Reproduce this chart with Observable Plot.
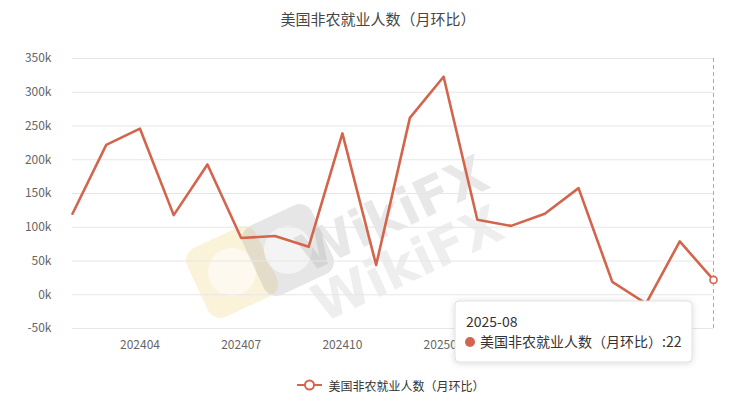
<!DOCTYPE html>
<html>
<head>
<meta charset="utf-8">
<script src="https://cdn.jsdelivr.net/npm/d3@7"></script>
<script src="https://cdn.jsdelivr.net/npm/@observablehq/plot@0.6"></script>
<style>
  html, body { margin: 0; padding: 0; background: #fff; }
  body { width: 748px; height: 402px; overflow: hidden; font-family: "Noto Sans CJK SC", "Noto Sans", sans-serif; }
  #title { height: 40px; line-height: 38px; text-align: center; font-size: 15px; color: #464646; padding-left: 8px; box-sizing: border-box; }
  #legend { height: 34px; display: flex; align-items: center; justify-content: center; padding-left: 34px; box-sizing: border-box; font-size: 12px; color: #333; }
  #legend svg { margin-right: 6px; }
</style>
</head>
<body>
<div id="title"></div>
<div id="chart"></div>
<div id="legend"></div>
<script>
const seriesName = "美国非农就业人数（月环比）";
const months = ["202402","202403","202404","202405","202406","202407","202408","202409","202410","202411",
                "202412","202501","202502","202503","202504","202505","202506","202507","202508","202509"];
const values = [120, 222, 246, 118, 193, 84, 87, 71, 239, 44, 262, 323, 111, 102, 120, 158, 19, -13, 79, 22];
const xTickLabels = ["202404","202407","202410","202501","202504","202507"];
const yTicks = [-50, 0, 50, 100, 150, 200, 250, 300, 350];
const tooltipDate = "2025-08";
const tooltipValue = 22;
const lineColor = "#d2654c";

const data = months.map((m, i) => ({month: m, value: values[i]}));
const last = data[data.length - 1];

document.getElementById("title").textContent = seriesName;

const chart = Plot.plot({
  width: 748,
  height: 328,
  marginTop: 18,
  marginBottom: 40,
  marginLeft: 72,
  marginRight: 35,
  style: {fontFamily: "'Noto Sans CJK SC', 'Noto Sans', sans-serif", fontSize: "12px", color: "#666", background: "transparent", overflow: "visible"},
  x: {type: "point", domain: months, padding: 0, round: false},
  y: {domain: [-50, 350]},
  marks: [
    Plot.gridY(yTicks, {stroke: "#e6e6e6", strokeOpacity: 1}),
    Plot.axisY(yTicks, {tickSize: 0, tickPadding: 21, tickFormat: d => d + "k", fill: "#666", label: null}),
    Plot.axisX(xTickLabels, {tickSize: 0, tickPadding: 12, fill: "#666", label: null}),
    Plot.ruleX([last], {x: "month", stroke: "#aaa", strokeDasharray: "4,3", strokeWidth: 1}),
    Plot.line(data, {x: "month", y: "value", stroke: lineColor, strokeWidth: 2.6, strokeLinejoin: "round"}),
    Plot.dot([last], {x: "month", y: "value", r: 3.5, fill: "white", stroke: lineColor, strokeWidth: 1.6})
  ]
});
document.getElementById("chart").appendChild(chart);

const svg = d3.select(chart);
const xs = chart.scale("x");
const ys = chart.scale("y");

// Watermark (drawn beneath data marks)
const wm = svg.insert("g", ":first-child").attr("pointer-events", "none");
function logo(cx, cy, fill, op) {
  const g = wm.append("g").attr("transform", `translate(${cx},${cy}) rotate(-25)`);
  g.append("rect").attr("x", -38).attr("y", -38).attr("width", 76).attr("height", 76).attr("rx", 14)
    .attr("fill", fill).attr("fill-opacity", op);
  g.append("circle").attr("r", 24).attr("fill", "white").attr("fill-opacity", 0.55);
}
logo(232, 232, "#f1d27a", 0.28);
logo(288, 210, "#8c8c8c", 0.22);
function wmText(cx, cy, op) {
  wm.append("text").attr("transform", `translate(${cx},${cy}) rotate(-25)`)
    .attr("text-anchor", "middle").attr("font-family", "'DejaVu Sans', sans-serif").attr("font-weight", "bold")
    .attr("font-size", 52).attr("fill", "#8c8c8c").attr("fill-opacity", op).text("WikiFX");
}
wmText(400, 190, 0.2);
wmText(415, 240, 0.15);

// Tooltip overlay
const tx = xs.apply(last.month) - 258;
const ty = ys.apply(-50) - 27;
const defs = svg.append("defs");
const f = defs.append("filter").attr("id", "shadow").attr("x", "-10%").attr("y", "-20%").attr("width", "120%").attr("height", "150%");
f.append("feDropShadow").attr("dx", 0).attr("dy", 1).attr("stdDeviation", 3).attr("flood-color", "#000").attr("flood-opacity", 0.15);
const tip = svg.append("g").attr("transform", `translate(${tx},${ty})`).attr("text-anchor", "start");
tip.append("rect").attr("width", 237).attr("height", 61).attr("rx", 4)
  .attr("fill", "white").attr("stroke", "#e0e0e0").attr("filter", "url(#shadow)");
tip.append("text").attr("x", 11).attr("y", 26).attr("text-anchor", "start").attr("font-size", 14).attr("fill", "#333").text(tooltipDate);
tip.append("circle").attr("cx", 15).attr("cy", 41).attr("r", 5).attr("fill", lineColor);
tip.append("text").attr("x", 25).attr("y", 46).attr("text-anchor", "start").attr("font-size", 14).attr("fill", "#333").text(seriesName + ":" + tooltipValue);

// Legend
const legend = document.getElementById("legend");
legend.innerHTML = `<svg width="25" height="14"><line x1="0" y1="7" x2="25" y2="7" stroke="${lineColor}" stroke-width="2"/><circle cx="12.5" cy="7" r="4.5" fill="white" stroke="${lineColor}" stroke-width="2"/></svg><span>${seriesName}</span>`;
</script>
</body>
</html>
